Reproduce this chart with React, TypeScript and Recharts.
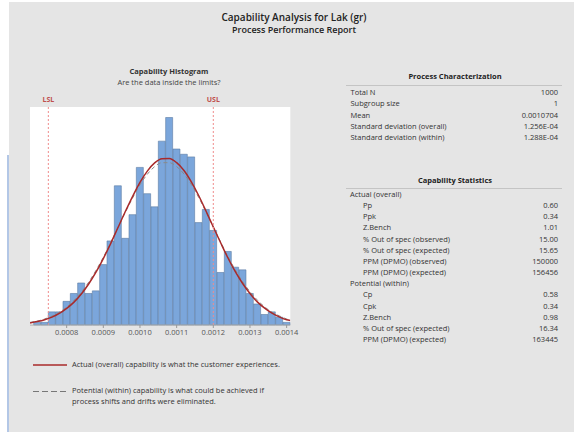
import React from 'react';
import {
  ComposedChart, Bar, Line, XAxis, YAxis, ReferenceLine, CartesianGrid
} from 'recharts';

const FONT = '"Open Sans", "Noto Sans", sans-serif';

// histogram bins (midpoints, width 0.00002) and counts
const binMids = [
  0.00072, 0.00074, 0.00076, 0.00078, 0.0008, 0.00082, 0.00084, 0.00086, 0.00088, 0.0009,
  0.00092, 0.00094, 0.00096, 0.00098, 0.001, 0.00102, 0.00104, 0.00106, 0.00108, 0.0011,
  0.00112, 0.00114, 0.00116, 0.00118, 0.0012, 0.00122, 0.00124, 0.00126, 0.00128, 0.0013,
  0.00132, 0.00134, 0.00136, 0.00138, 0.0014
];
const binCounts = [
  1, 1, 5, 5, 9, 12, 16, 12, 13, 23,
  32, 53, 33, 42, 60, 50, 45, 70, 79, 67,
  65, 64, 39, 44, 36, 20, 28, 22, 21, 12,
  8, 4, 5, 3, 1
];
const BIN_WIDTH = 0.00002;
const X_DOMAIN: [number, number] = [0.0007, 0.00141];

// fitted curves (count scale)
const fitX = [
  0.0007, 0.00072, 0.00074, 0.00076, 0.00078, 0.0008, 0.00082, 0.00084, 0.00086, 0.00088,
  0.0009, 0.00092, 0.00094, 0.00096, 0.00098, 0.001, 0.00102, 0.00104, 0.00106, 0.00108,
  0.0011, 0.00112, 0.00114, 0.00116, 0.00118, 0.0012, 0.00122, 0.00124, 0.00126, 0.00128,
  0.0013, 0.00132, 0.00134, 0.00136, 0.00138, 0.0014, 0.00141
];
const actualFit = [
  0.8, 1.3, 2.0, 3.0, 4.4, 6.3, 8.7, 11.8, 15.6, 20.1,
  25.3, 31.0, 37.1, 43.2, 49.0, 54.3, 58.6, 61.7, 63.3, 63.4,
  61.8, 58.8, 54.5, 49.3, 43.4, 37.3, 31.3, 25.5, 20.3, 15.8,
  12.0, 8.8, 6.4, 4.5, 3.1, 2.0, 1.7
];
const potentialFit = [
  1.0, 1.5, 2.3, 3.4, 4.9, 6.8, 9.4, 12.5, 16.3, 20.8,
  25.8, 31.3, 37.1, 42.9, 48.4, 53.4, 57.4, 60.3, 61.8, 61.8,
  60.3, 57.5, 53.5, 48.6, 43.1, 37.3, 31.6, 26.0, 21.0, 16.5,
  12.7, 9.5, 6.9, 4.9, 3.5, 2.3, 2.0
];

const tickValues = [0.0008, 0.0009, 0.001, 0.0011, 0.0012, 0.0013, 0.0014];
const LSL = 0.00075;
const USL = 0.0012;

const charLabels = ['Total N', 'Subgroup size', 'Mean', 'Standard deviation (overall)', 'Standard deviation (within)'];
const charValues = ['1000', '1', '0.0010704', '1.256E-04', '1.288E-04'];

const actualLabels = ['Pp', 'Ppk', 'Z.Bench', '% Out of spec (observed)', '% Out of spec (expected)', 'PPM (DPMO) (observed)', 'PPM (DPMO) (expected)'];
const actualValues = ['0.60', '0.34', '1.01', '15.00', '15.65', '150000', '156456'];
const potentialLabels = ['Cp', 'Cpk', 'Z.Bench', '% Out of spec (expected)', 'PPM (DPMO) (expected)'];
const potentialValues = ['0.58', '0.34', '0.98', '16.34', '163445'];

const binRows = binMids.map((m, i) => ({ bin: m.toFixed(5), count: binCounts[i] }));
const fitRows = fitX.map((x, i) => ({ x, actual: actualFit[i], potential: potentialFit[i] }));

type TProps = {
  x: number; y: number; children: React.ReactNode;
  size?: number; weight?: number; align?: 'left' | 'center' | 'right'; color?: string;
};

function T({ x, y, children, size = 7.5, weight = 400, align = 'left', color = '#333' }: TProps) {
  const tx = align === 'center' ? '-50%' : align === 'right' ? '-100%' : '0';
  return (
    <div
      style={{
        position: 'absolute', left: x, top: y, transform: `translate(${tx}, -50%)`,
        fontSize: size, fontWeight: weight, color, lineHeight: 1, whiteSpace: 'nowrap', fontFamily: FONT
      }}
    >
      {children}
    </div>
  );
}

const CHART_W = 300;
const MARGIN = { top: 12, right: 9.7, bottom: 0, left: 30 };

function Histogram() {
  // the category axis for the bars covers the bin range inside the numeric domain
  const plotW = CHART_W - MARGIN.left - MARGIN.right;
  const span = X_DOMAIN[1] - X_DOMAIN[0];
  const firstEdge = binMids[0] - BIN_WIDTH / 2;
  const lastEdge = binMids[binMids.length - 1] + BIN_WIDTH / 2;
  const padLeft = (plotW * (firstEdge - X_DOMAIN[0])) / span;
  const padRight = (plotW * (X_DOMAIN[1] - lastEdge)) / span;

  return (
    <div style={{ position: 'absolute', left: 0, top: 95 }}>
      <ComposedChart
        width={CHART_W}
        height={250}
        data={binRows}
        margin={MARGIN}
        barCategoryGap={0}
        barGap={0}
      >
        <CartesianGrid xAxisId="val" horizontal={false} vertical={false} fill="#ffffff" />
        <XAxis
          xAxisId="bins"
          dataKey="bin"
          type="category"
          orientation="top"
          height={0}
          padding={{ left: padLeft, right: padRight }}
          hide
        />
        <XAxis
          xAxisId="val"
          dataKey="x"
          type="number"
          domain={X_DOMAIN}
          ticks={tickValues}
          allowDataOverflow
          height={20}
          tickSize={3}
          tickFormatter={(v: number) => v.toFixed(4)}
          tick={{ fontSize: 7.5, fill: '#555', fontFamily: FONT }}
          tickLine={{ stroke: '#999' }}
          axisLine={{ stroke: '#aaa' }}
        />
        <YAxis hide domain={[0, 83]} />
        <Bar
          xAxisId="bins"
          dataKey="count"
          fill="#7ba6db"
          stroke="#5d7ca3"
          strokeWidth={0.6}
          isAnimationActive={false}
        />
        <Line
          xAxisId="val"
          data={fitRows}
          dataKey="potential"
          type="monotone"
          stroke="#8a8a8a"
          strokeWidth={1}
          strokeDasharray="4 3"
          dot={false}
          isAnimationActive={false}
        />
        <Line
          xAxisId="val"
          data={fitRows}
          dataKey="actual"
          type="monotone"
          stroke="#a82a2a"
          strokeWidth={1.5}
          dot={false}
          isAnimationActive={false}
        />
        <ReferenceLine
          xAxisId="val"
          x={LSL}
          stroke="#f08c8c"
          strokeDasharray="2 2"
          label={{ value: 'LSL', position: 'top', fill: '#c0504d', fontSize: 7, fontWeight: 700, fontFamily: FONT }}
        />
        <ReferenceLine
          xAxisId="val"
          x={USL}
          stroke="#f08c8c"
          strokeDasharray="2 2"
          label={{ value: 'USL', position: 'top', fill: '#c0504d', fontSize: 7, fontWeight: 700, fontFamily: FONT }}
        />
      </ComposedChart>
    </div>
  );
}

export default function App() {
  const step = 11.15;
  return (
    <div style={{ position: 'absolute', left: 0, top: 0, width: 574, height: 432, background: '#fff', overflow: 'hidden' }}>
      <div style={{ position: 'absolute', left: 9, top: 2, width: 565, height: 430, background: '#e5e5e5' }} />
      <div style={{ position: 'absolute', left: 7, top: 155, width: 1.5, height: 277, background: '#b3c7e6' }} />

      <T x={294} y={16.5} size={10} weight={600} align="center" color="#222">Capability Analysis for Lak (gr)</T>
      <T x={294} y={29.3} size={9} weight={600} align="center" color="#222">Process Performance Report</T>

      <T x={169} y={71.7} size={7.5} weight={700} align="center" color="#333">Capability Histogram</T>
      <T x={169} y={83.3} size={7.5} align="center" color="#444">Are the data inside the limits?</T>

      <Histogram />

      {/* legend */}
      <svg style={{ position: 'absolute', left: 0, top: 0 }} width={80} height={432}>
        <line x1={33} x2={67} y1={365} y2={365} stroke="#a82a2a" strokeWidth={1.5} />
        <line x1={33} x2={67} y1={391.5} y2={391.5} stroke="#777" strokeWidth={1} strokeDasharray="6 3" />
      </svg>
      <T x={72} y={365}>Actual (overall) capability is what the customer experiences.</T>
      <T x={72} y={391}>Potential (within) capability is what could be achieved if</T>
      <T x={72} y={402}>process shifts and drifts were eliminated.</T>

      {/* process characterization */}
      <T x={455} y={77} size={7.5} weight={700} align="center" color="#222">Process Characterization</T>
      <div style={{ position: 'absolute', left: 346, top: 85, width: 216, height: 1, background: '#c4c4c4' }} />
      {charLabels.map((l, i) => (
        <React.Fragment key={l}>
          <T x={350.5} y={93.3 + i * 11.1}>{l}</T>
          <T x={558} y={93.3 + i * 11.1} align="right">{charValues[i]}</T>
        </React.Fragment>
      ))}

      {/* capability statistics */}
      <T x={455} y={180.7} size={7.5} weight={700} align="center" color="#222">Capability Statistics</T>
      <div style={{ position: 'absolute', left: 346, top: 188, width: 216, height: 1, background: '#c4c4c4' }} />
      <T x={350} y={195}>Actual (overall)</T>
      {actualLabels.map((l, i) => (
        <React.Fragment key={'a' + l}>
          <T x={363} y={195 + (i + 1) * step}>{l}</T>
          <T x={558} y={195 + (i + 1) * step} align="right">{actualValues[i]}</T>
        </React.Fragment>
      ))}
      <T x={350} y={195 + 8 * step}>Potential (within)</T>
      {potentialLabels.map((l, i) => (
        <React.Fragment key={'p' + l}>
          <T x={363} y={195 + (i + 9) * step}>{l}</T>
          <T x={558} y={195 + (i + 9) * step} align="right">{potentialValues[i]}</T>
        </React.Fragment>
      ))}
    </div>
  );
}
